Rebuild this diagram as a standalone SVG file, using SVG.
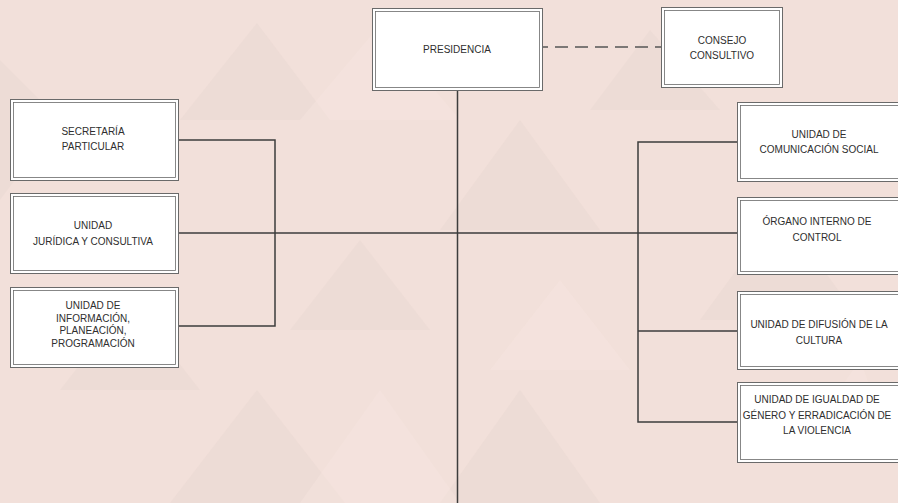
<svg xmlns="http://www.w3.org/2000/svg" width="898" height="503" viewBox="0 0 898 503">
<style>
.bg{fill:#f2e0da}
.tri{fill:#e6d5cf;opacity:0.35}
.lt{fill:#f7e6e1;opacity:0.4}
.box{fill:#ffffff;stroke:#6a6a6a;stroke-width:1}
.inner{fill:none;stroke:#6a6a6a;stroke-width:0.8}
.ln{fill:none;stroke:#3d3d3d;stroke-width:1.5}
.dash{fill:none;stroke:#555;stroke-width:1.6;stroke-dasharray:13,7}
text{font-family:"Liberation Sans",Arial,sans-serif;font-size:10px;fill:#2e2e2e;text-anchor:middle}
</style>
<rect class="bg" x="0" y="0" width="898" height="503"/>
<g id="background">
<polygon class="tri" points="257,23 180,120 330,120"/>
<polygon class="tri" points="257,390 170,503 345,503"/>
<polygon class="tri" points="60,120 0,200 0,60"/>
<polygon class="tri" points="520,120 440,230 600,230"/>
<polygon class="tri" points="520,390 440,503 600,503"/>
<polygon class="tri" points="780,210 700,320 860,320"/>
<polygon class="tri" points="130,300 60,390 200,390"/>
<polygon class="tri" points="650,30 590,110 720,110"/>
<polygon class="tri" points="360,240 290,330 430,330"/>
<polygon class="lt" points="380,25 300,120 460,120"/>
<polygon class="lt" points="380,390 300,503 460,503"/>
<polygon class="lt" points="560,280 490,370 630,370"/>
<polygon class="lt" points="860,360 790,460 898,460"/>
</g>
<g id="connectors">
<line class="ln" x1="457.5" y1="90" x2="457.5" y2="503"/>
<line class="dash" x1="535" y1="47" x2="661" y2="47"/>
<line class="ln" x1="178" y1="233" x2="737" y2="233"/>
<polyline class="ln" points="178,140 275,140 275,326 178,326"/>
<polyline class="ln" points="737,142 638,142 638,422 737,422"/>
<line class="ln" x1="638" y1="331" x2="737" y2="331"/>
</g>
<g id="presidencia">
<rect class="box" x="372.5" y="8.5" width="170" height="82"/>
<rect class="inner" x="375.5" y="11.5" width="164" height="76"/>
<text x="457" y="53">PRESIDENCIA</text>
</g>
<g id="consejo">
<rect class="box" x="661.5" y="7.5" width="121" height="80"/>
<rect class="inner" x="664.5" y="10.5" width="115" height="74"/>
<text x="722" y="44">CONSEJO</text>
<text x="722" y="59">CONSULTIVO</text>
</g>
<g id="secretaria">
<rect class="box" x="10.5" y="99.5" width="168" height="81"/>
<rect class="inner" x="13.5" y="102.5" width="162" height="75"/>
<text x="93" y="135">SECRETARÍA</text>
<text x="93" y="150">PARTICULAR</text>
</g>
<g id="juridica">
<rect class="box" x="10.5" y="193.5" width="168" height="80"/>
<rect class="inner" x="13.5" y="196.5" width="162" height="74"/>
<text x="93" y="229">UNIDAD</text>
<text x="93" y="245">JURÍDICA Y CONSULTIVA</text>
</g>
<g id="informacion">
<rect class="box" x="10.5" y="287.5" width="168" height="80"/>
<rect class="inner" x="13.5" y="290.5" width="162" height="74"/>
<text x="93" y="309">UNIDAD DE</text>
<text x="93" y="321.5">INFORMACIÓN,</text>
<text x="93" y="334">PLANEACIÓN,</text>
<text x="93" y="347">PROGRAMACIÓN</text>
</g>
<g id="comunicacion">
<rect class="box" x="737.5" y="102.5" width="168" height="79"/>
<rect class="inner" x="740.5" y="105.5" width="162" height="73"/>
<text x="819" y="138">UNIDAD DE</text>
<text x="819" y="153">COMUNICACIÓN SOCIAL</text>
</g>
<g id="organo">
<rect class="box" x="737.5" y="197.5" width="168" height="77"/>
<rect class="inner" x="740.5" y="200.5" width="162" height="71"/>
<text x="817" y="225">ÓRGANO INTERNO DE</text>
<text x="817" y="241">CONTROL</text>
</g>
<g id="difusion">
<rect class="box" x="737.5" y="291.5" width="168" height="78"/>
<rect class="inner" x="740.5" y="294.5" width="162" height="72"/>
<text x="819" y="328">UNIDAD DE DIFUSIÓN DE LA</text>
<text x="819" y="344">CULTURA</text>
</g>
<g id="igualdad">
<rect class="box" x="737.5" y="382.5" width="168" height="80"/>
<rect class="inner" x="740.5" y="385.5" width="162" height="74"/>
<text x="817" y="403">UNIDAD DE IGUALDAD DE</text>
<text x="817" y="419">GÉNERO Y ERRADICACIÓN DE</text>
<text x="817" y="434">LA VIOLENCIA</text>
</g>
</svg>
